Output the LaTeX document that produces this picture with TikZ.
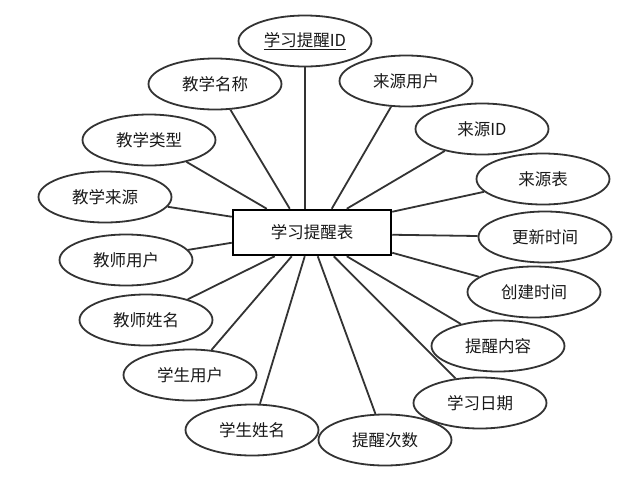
\documentclass[tikz,border=0pt]{standalone}
\usepackage{fontspec}
\newfontfamily\cjk{Noto Sans CJK SC}
\usetikzlibrary{shapes.geometric,calc}
\begin{document}
\begin{tikzpicture}[x=1pt,y=-1pt,
  attr/.style={ellipse,draw=black!80,line width=1.8pt,minimum width=133pt,minimum height=51pt,inner sep=0pt,font=\cjk\fontsize{16.5}{18}\selectfont,text=black!90},
  ent/.style={rectangle,draw=black,line width=2.5pt,minimum width=158pt,minimum height=45pt,inner sep=0pt,font=\cjk\fontsize{16.5}{18}\selectfont,text=black!90},
  link/.style={draw=black!80,line width=1.8pt}]
\useasboundingbox (0,0) rectangle (630,485);
\fill[white] (0,0) rectangle (630,485);
\node[ent] (r) at (312,232.5) {学习提醒表};
\node[attr] (id) at (305,41) {\underline{学习提醒ID}};
\node[attr] (jxmc) at (215,84) {教学名称};
\node[attr] (lyyh) at (406,81) {来源用户};
\node[attr] (lyid) at (482,129) {来源ID};
\node[attr] (lyb) at (543,179) {来源表};
\node[attr] (gxsj) at (545,237) {更新时间};
\node[attr] (cjsj) at (534,292) {创建时间};
\node[attr] (txnr) at (498,346) {提醒内容};
\node[attr] (xxrq) at (480,403) {学习日期};
\node[attr] (txcs) at (385,440) {提醒次数};
\node[attr] (xsxm) at (252,430) {学生姓名};
\node[attr] (xsyh) at (190,375) {学生用户};
\node[attr] (jsxm) at (146,320) {教师姓名};
\node[attr] (jsyh) at (126,260) {教师用户};
\node[attr] (jxly) at (105,197) {教学来源};
\node[attr] (jxlx) at (149,140) {教学类型};
% start points on the entity box
\coordinate (a1) at ($(r.north west)+(35,0)$);
\coordinate (a2) at ($(r.north west)+(58,0)$);
\coordinate (a3) at ($(r.north west)+(73,0)$);
\coordinate (a4) at ($(r.north west)+(100,0)$);
\coordinate (a5) at ($(r.north west)+(115,0)$);
\coordinate (b1) at ($(r.north east)+(0,3)$);
\coordinate (b2) at ($(r.north east)+(0,26)$);
\coordinate (b3) at ($(r.north east)+(0,44)$);
\coordinate (c1) at ($(r.south west)+(43,0)$);
\coordinate (c2) at ($(r.south west)+(60,0)$);
\coordinate (c3) at ($(r.south west)+(73,0)$);
\coordinate (c4) at ($(r.south west)+(86,0)$);
\coordinate (c5) at ($(r.south west)+(102,0)$);
\coordinate (c6) at ($(r.south west)+(115,0)$);
\coordinate (d1) at ($(r.north west)+(0,8)$);
\coordinate (d2) at ($(r.north west)+(0,34)$);
\draw[link] (a1) -- (jxlx);
\draw[link] (a2) -- (jxmc);
\draw[link] (a3) -- (a3 |- id.south);
\draw[link] (a4) -- (lyyh);
\draw[link] (a5) -- (lyid);
\draw[link] (b1) -- (lyb);
\draw[link] (b2) -- (gxsj);
\draw[link] (b3) -- (cjsj);
\draw[link] (c1) -- (jsxm);
\draw[link] (c2) -- (xsyh);
\draw[link] (c3) -- (xsxm);
\draw[link] (c4) -- (txcs);
\draw[link] (c5) -- (xxrq);
\draw[link] (c6) -- (txnr);
\draw[link] (d1) -- (jxly);
\draw[link] (d2) -- (jsyh);
\end{tikzpicture}
\end{document}
